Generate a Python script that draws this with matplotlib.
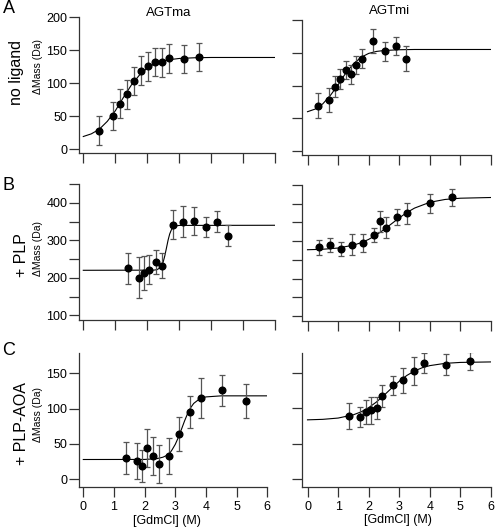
import matplotlib
matplotlib.use("Agg")
import matplotlib.pyplot as plt

plt.rcParams['font.family'] = ['Liberation Sans', 'DejaVu Sans']

# ---------------- data ----------------
# Row A: no ligand
a_ma_x = [0.48, 0.92, 1.15, 1.36, 1.58, 1.79, 2.01, 2.24, 2.47, 2.68, 3.16, 3.62]
a_ma_y = [28, 50, 69, 83, 103, 119, 126, 132, 132, 138, 137, 140]
a_ma_e = [22, 21, 22, 22, 21, 22, 22, 21, 22, 22, 21, 21]
a_ma_cx = [0, 0.25, 0.5, 0.75, 1.0, 1.25, 1.5, 1.75, 2.0, 2.25, 2.5, 2.75, 3.0, 3.5, 4.0, 6.0]
a_ma_cy = [19, 23, 30, 42, 58, 78, 97, 112, 123, 130, 134, 136, 137.5, 138.6, 139, 139]

a_mi_x = [0.35, 0.70, 0.90, 1.05, 1.26, 1.42, 1.59, 1.77, 2.13, 2.52, 2.88, 3.22]
a_mi_y = [69, 78, 98, 110, 124, 117, 131, 141, 168, 152, 160, 141]
a_mi_e = [19, 18, 16, 15, 14, 15, 14, 15, 18, 15, 14, 19]
a_mi_cx = [0, 0.25, 0.5, 0.75, 1.0, 1.25, 1.5, 1.75, 2.0, 2.25, 2.5, 3.0, 3.5, 6.0]
a_mi_cy = [60, 64, 72, 85, 101, 119, 133, 143, 149, 152, 153.4, 154.6, 155, 155]

# Row B: + PLP
b_ma_x = [1.39, 1.74, 1.91, 2.06, 2.26, 2.45, 2.79, 3.13, 3.47, 3.82, 4.17, 4.52]
b_ma_y = [225, 200, 213, 222, 242, 232, 342, 350, 352, 336, 349, 312]
b_ma_e = [42, 55, 46, 39, 31, 33, 39, 41, 38, 26, 28, 28]
b_ma_cx = [0, 2.2, 2.3, 2.4, 2.45, 2.5, 2.55, 2.6, 2.65, 2.7, 2.75, 2.8, 2.9, 3.0, 6.0]
b_ma_cy = [220, 220.4, 221.6, 226.5, 232.6, 243.2, 259.5, 280, 300.5, 316.8, 327.4, 333.5, 338.4, 339.6, 340]

b_mi_x = [0.39, 0.74, 1.09, 1.45, 1.81, 2.17, 2.37, 2.56, 2.92, 3.26, 4.00, 4.72]
b_mi_y = [284, 289, 280, 291, 295, 317, 353, 336, 364, 374, 401, 417]
b_mi_e = [20, 19, 19, 28, 24, 18, 28, 28, 21, 27, 26, 23]
b_mi_cx = [0, 0.5, 1.0, 1.5, 1.75, 2.0, 2.25, 2.5, 2.75, 3.0, 3.25, 3.5, 4.0, 4.5, 5.0, 6.0]
b_mi_cy = [277, 278.3, 281.6, 289.2, 295.7, 304.7, 316.5, 330.8, 346.5, 362.2, 376.5, 388.3, 403.8, 411.4, 414.7, 416.6]

# Row C: + PLP-AOA
c_ma_x = [1.40, 1.74, 1.92, 2.08, 2.28, 2.47, 2.80, 3.13, 3.48, 3.83, 4.52, 5.30]
c_ma_y = [30, 26, 19, 44, 33, 22, 33, 64, 95, 115, 126, 111]
c_ma_e = [23, 26, 23, 27, 27, 27, 25, 24, 23, 28, 22, 24]
c_ma_cx = [0, 2.0, 2.4, 2.6, 2.8, 2.9, 3.0, 3.1, 3.2, 3.3, 3.4, 3.5, 3.6, 3.8, 4.0, 4.5, 6.0]
c_ma_cy = [28, 28.1, 29.2, 31.3, 35.5, 42.1, 49.5, 59.3, 70.6, 82.3, 92.8, 101.2, 107.3, 114, 116.5, 118, 118]

c_mi_x = [1.37, 1.73, 1.91, 2.06, 2.27, 2.45, 2.79, 3.12, 3.47, 3.82, 4.53, 5.30]
c_mi_y = [89, 87, 94.5, 97, 100, 117, 132, 139, 152, 163, 161, 166]
c_mi_e = [18, 14, 17, 19, 15, 16, 13, 18, 20, 14, 15, 13]
c_mi_cx = [0, 0.5, 1.0, 1.5, 1.75, 2.0, 2.25, 2.5, 2.75, 3.0, 3.25, 3.5, 3.75, 4.0, 4.5, 5.0, 6.0]
c_mi_cy = [83.4, 84.1, 85.9, 90.5, 94.6, 100.6, 108.4, 117.9, 128.1, 137.8, 146, 152.3, 156.8, 159.8, 163, 164.3, 165]

col_titles = ["AGTma", "AGTmi"]
row_labels = ["no ligand", "+ PLP", "+ PLP-AOA"]
panel_letters = ["A", "B", "C"]
x_ticks = [0, 1, 2, 3, 4, 5, 6]
y_ticks_A = [0, 50, 100, 150, 200]
y_ticks_B = [100, 150, 200, 250, 300, 350, 400, 450]
y_labels_B = ["100", "", "200", "", "300", "", "400", ""]
y_ticks_C = [0, 50, 100, 150]
y_label = "\u0394Mass (Da)"
x_label = "[GdmCl] (M)"

# ---------------- layout ----------------
W, H = 500, 528
fig = plt.figure(figsize=(W / 100, H / 100), dpi=100)


def px_axes(l, t, r, b):
    return fig.add_axes([l / W, 1 - b / H, (r - l) / W, (b - t) / H])


panels = [
    ((a_ma_x, a_ma_y, a_ma_e, a_ma_cx, a_ma_cy), (79, 17.3, 275.3, 153.3), (-0.134, 6), (-6.5, 200), y_ticks_A, None, False, True),
    ((a_mi_x, a_mi_y, a_mi_e, a_mi_cx, a_mi_cy), (302, 20, 491, 155), (-0.18, 6), (-6.1, 200), y_ticks_A, None, False, False),
    ((b_ma_x, b_ma_y, b_ma_e, b_ma_cx, b_ma_cy), (79, 184, 275.3, 320), (-0.134, 6), (87.5, 450), y_ticks_B, y_labels_B, False, True),
    ((b_mi_x, b_mi_y, b_mi_e, b_mi_cx, b_mi_cy), (302, 185, 491, 321), (-0.18, 6), (86.6, 450), y_ticks_B, y_labels_B, False, False),
    ((c_ma_x, c_ma_y, c_ma_e, c_ma_cx, c_ma_cy), (79, 352.7, 267.3, 487.3), (-0.14, 6), (-11.3, 179), y_ticks_C, None, True, True),
    ((c_mi_x, c_mi_y, c_mi_e, c_mi_cx, c_mi_cy), (302, 352.7, 491, 486.7), (-0.18, 6), (-10.8, 178), y_ticks_C, None, True, False),
]

for (x, y, e, cx, cy), (l, t, r, b), xl, yl, yt, ytl, showx, showy in panels:
    ax = px_axes(l, t, r, b)
    ax.plot(cx, cy, color="black", lw=0.8, zorder=2)
    ax.errorbar(x, y, yerr=e, fmt="o", color="black", ms=4.8,
                ecolor="#555555", elinewidth=0.9, capsize=2.3, capthick=0.9, zorder=3)
    ax.set_xlim(*xl)
    ax.set_ylim(*yl)
    for s in ("top", "right"):
        ax.spines[s].set_visible(False)
    for s in ("left", "bottom"):
        ax.spines[s].set_linewidth(0.9)
        ax.spines[s].set_color("#333333")
    ax.set_xticks(x_ticks)
    ax.set_yticks(yt)
    if ytl is not None:
        ax.set_yticklabels(ytl)
    ax.tick_params(direction="out", length=7, width=0.9, color="#333333",
                   labelsize=9, pad=1.5)
    ax.tick_params(axis="x", pad=3)
    if not showx:
        ax.tick_params(axis="x", labelbottom=False)
    if not showy:
        ax.tick_params(axis="y", labelleft=False)


def ftext(xp, yp, s, **kw):
    fig.text(xp / W, 1 - yp / H, s, ha="center", va="center", **kw)


for letter, yp in zip(panel_letters, [8.5, 186, 350.5]):
    ftext(9, yp, letter, fontsize=13)

ftext(169, 12.5, col_titles[0], fontsize=9.5)
ftext(389.5, 11.5, col_titles[1], fontsize=9.5)

for lab, yp, xp in zip(row_labels, [72.5, 255, 424], [17, 21.5, 21.5]):
    ftext(xp, yp, lab, fontsize=11.5, rotation=90)

for yp in [67, 248, 415]:
    ftext(38, yp, y_label, fontsize=7.5, rotation=90)

ftext(166.7, 521, x_label, fontsize=9)
ftext(397.5, 520, x_label, fontsize=9)

fig.savefig("out.png", dpi=100)
